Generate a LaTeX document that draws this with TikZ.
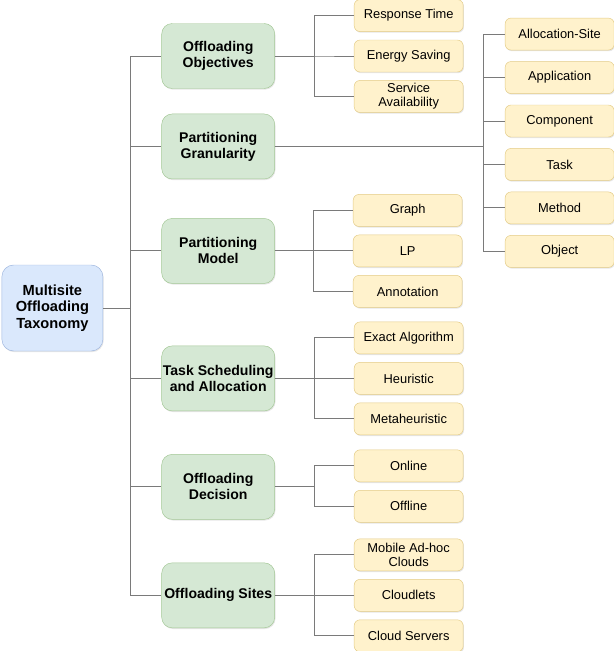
\documentclass[tikz,border=0pt]{standalone}
\usepackage{fontspec}
\setmainfont{Liberation Sans}
\usetikzlibrary{positioning,shadows}
\definecolor{rootfill}{HTML}{DAE8FC}
\definecolor{rootline}{HTML}{9DB5DE}
\definecolor{catfill}{HTML}{D5E8D4}
\definecolor{catline}{HTML}{A3C795}
\definecolor{leaffill}{HTML}{FFF2CC}
\definecolor{leafline}{HTML}{E3CB85}
\definecolor{linkgray}{HTML}{7A7A7A}

\begin{document}
\begin{tikzpicture}[
    node distance=0.24cm,
    boxshadow/.style={drop shadow={shadow xshift=0.7pt, shadow yshift=-1pt, opacity=0.2}},
    taxroot/.style={draw=rootline, fill=rootfill, boxshadow, rounded corners=10pt, align=center, inner sep=1pt, minimum width=3.03cm, minimum height=2.58cm, font=\bfseries\fontsize{12.5}{14.2}\selectfont},
    category/.style={draw=catline, fill=catfill, boxshadow, rounded corners=9pt, align=center, inner sep=1pt, minimum width=3.39cm, minimum height=1.95cm, font=\bfseries\fontsize{12}{13.7}\selectfont},
    leaf/.style={draw=leafline, fill=leaffill, boxshadow, rounded corners=5pt, align=center, inner sep=1pt, minimum width=3.27cm, minimum height=0.96cm, font=\fontsize{11}{12}\selectfont},
    link/.style={draw=linkgray, line width=0.8pt}
]
\useasboundingbox (0,9.24) rectangle (18.42,-10.29);

\node[taxroot, anchor=west] (root) at (0.05,0) {Multisite\\Offloading\\Taxonomy};

\node[category, right=1.75cm of root, yshift=7.56cm] (objectives) {Offloading\\Objectives};
\node[category, below=0.75cm of objectives] (granularity) {Partitioning\\Granularity};
\node[category, below=1.17cm of granularity] (model) {Partitioning\\Model};
\node[category, below=1.86cm of model] (scheduling) {Task Scheduling\\and Allocation};
\node[category, below=1.29cm of scheduling] (decision) {Offloading\\Decision};
\node[category, below=1.29cm of decision] (sites) {Offloading Sites};

% objectives
\node[leaf, right=2.37cm of objectives] (energy) {Energy Saving};
\node[leaf, above=of energy] (response) {Response Time};
\node[leaf, below=of energy] (availability) {Service\\Availability};

% granularity
\node[leaf, right=6.9cm of granularity, yshift=-0.54cm] (task) {Task};
\node[leaf, above=0.33cm of task] (component) {Component};
\node[leaf, above=0.33cm of component] (application) {Application};
\node[leaf, above=0.33cm of application] (allocsite) {Allocation-Site};
\node[leaf, below=0.33cm of task] (method) {Method};
\node[leaf, below=0.33cm of method] (object) {Object};

% model
\node[leaf, right=2.34cm of model] (lp) {LP};
\node[leaf, above=of lp] (graph) {Graph};
\node[leaf, below=of lp] (annotation) {Annotation};

% scheduling
\node[leaf, right=2.37cm of scheduling] (heuristic) {Heuristic};
\node[leaf, above=of heuristic] (exact) {Exact Algorithm};
\node[leaf, below=of heuristic] (metaheuristic) {Metaheuristic};

% decision
\node[leaf, right=2.37cm of decision, yshift=0.63cm] (online) {Online};
\node[leaf, below=of online] (offline) {Offline};

% sites
\node[leaf, right=2.37cm of sites] (cloudlets) {Cloudlets};
\node[leaf, above=of cloudlets] (manet) {Mobile Ad-hoc\\Clouds};
\node[leaf, below=of cloudlets] (servers) {Cloud Servers};

% connectors
\foreach \cat in {objectives,granularity,model,scheduling,decision,sites}
    \draw[link] (root.east) -- ++(0.82,0) |- (\cat.west);
\foreach \sub in {response,energy,availability}
    \draw[link] (objectives.east) -- ++(1.2,0) |- (\sub.west);
\foreach \sub in {allocsite,application,component,task,method,object}
    \draw[link] (granularity.east) -- ++(6.27,0) |- (\sub.west);
\foreach \sub in {graph,lp,annotation}
    \draw[link] (model.east) -- ++(1.17,0) |- (\sub.west);
\foreach \sub in {exact,heuristic,metaheuristic}
    \draw[link] (scheduling.east) -- ++(1.2,0) |- (\sub.west);
\foreach \sub in {online,offline}
    \draw[link] (decision.east) -- ++(1.2,0) |- (\sub.west);
\foreach \sub in {manet,cloudlets,servers}
    \draw[link] (sites.east) -- ++(1.2,0) |- (\sub.west);

\end{tikzpicture}
\end{document}
